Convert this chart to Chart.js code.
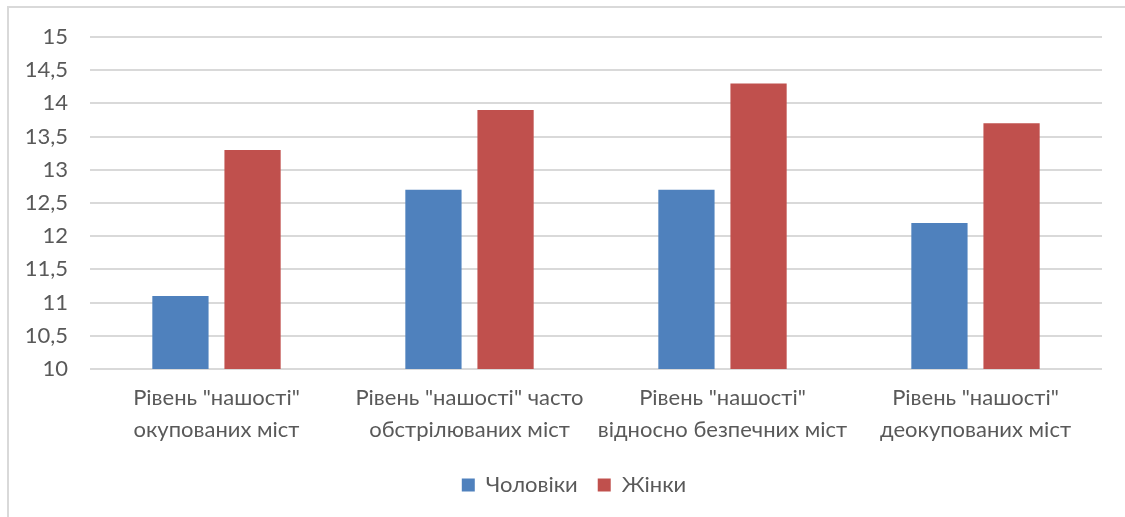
<!DOCTYPE html>
<html lang="uk">
<head>
<meta charset="utf-8">
<title>Рівень "нашості"</title>
<script src="https://cdn.jsdelivr.net/npm/chart.js@4/dist/chart.umd.min.js"></script>
<style>
  html, body { margin: 0; padding: 0; background: #ffffff; overflow: hidden; }
  #wrap { position: relative; width: 1125px; height: 517px; }
  #frame {
    position: absolute; left: 7px; top: 6px; width: 1200px; height: 600px;
    border-top: 2px solid #D9D9D9; border-left: 2px solid #D9D9D9;
    box-sizing: border-box;
  }
  #chart { position: absolute; left: 0; top: 0; }
</style>
</head>
<body>
<div id="wrap">
  <div id="frame"></div>
  <canvas id="chart" width="1125" height="517"></canvas>
</div>
<script>
// Categories (each label split into two lines)
const categories = [
  ['Рівень "нашості"', 'окупованих міст'],
  ['Рівень "нашості" часто', 'обстрілюваних міст'],
  ['Рівень "нашості"', 'відносно безпечних міст'],
  ['Рівень "нашості"', 'деокупованих міст']
];

// Series values
const men = [11.1, 12.7, 12.7, 12.2];
const women = [13.3, 13.9, 14.3, 13.7];

// Series names
const seriesNames = ['Чоловіки', 'Жінки'];

// Value axis range
const yMin = 10;
const yMax = 15;
const yStep = 0.5;

const FONT = 'Lato';
const TEXT = '#595959';
const GRID = '#D9D9D9';

// The frame continues past the right edge of the page, so the legend is
// centred on the whole frame rather than on the visible plot width.
const legendShift = {
  id: 'legendShift',
  afterLayout(chart) {
    const lg = chart.legend;
    if (lg) { lg.left += 23; lg.right += 23; }
  }
};

new Chart(document.getElementById('chart'), {
  type: 'bar',
  data: {
    labels: categories,
    datasets: [
      {
        label: seriesNames[0],
        data: men,
        backgroundColor: '#4F81BD',
        borderWidth: 0,
        categoryPercentage: 0.57,
        barPercentage: 0.78
      },
      {
        label: seriesNames[1],
        data: women,
        backgroundColor: '#C0504D',
        borderWidth: 0,
        categoryPercentage: 0.57,
        barPercentage: 0.78
      }
    ]
  },
  plugins: [legendShift],
  options: {
    responsive: false,
    animation: false,
    events: [],
    layout: { padding: { left: 0, right: 23, top: 37, bottom: 11 } },
    plugins: {
      tooltip: { enabled: false },
      legend: {
        position: 'bottom',
        labels: {
          color: TEXT,
          font: { family: FONT, size: 22 },
          boxWidth: 13,
          boxHeight: 13,
          padding: 20
        }
      }
    },
    scales: {
      x: {
        grid: { display: false, drawTicks: false },
        border: { display: false },
        ticks: {
          color: TEXT,
          font: { family: FONT, size: 22, lineHeight: 1.45 },
          padding: 13,
          maxRotation: 0,
          autoSkip: false
        },
        afterFit: (s) => { s.height = 85; }
      },
      y: {
        min: yMin,
        max: yMax,
        grid: { color: GRID, lineWidth: 2, drawTicks: false },
        border: { display: false },
        ticks: {
          stepSize: yStep,
          color: TEXT,
          font: { family: FONT, size: 22 },
          padding: 22,
          callback: (v) => String(v).replace('.', ',')
        },
        afterFit: (s) => { s.width = 90; }
      }
    }
  }
});
</script>
</body>
</html>
